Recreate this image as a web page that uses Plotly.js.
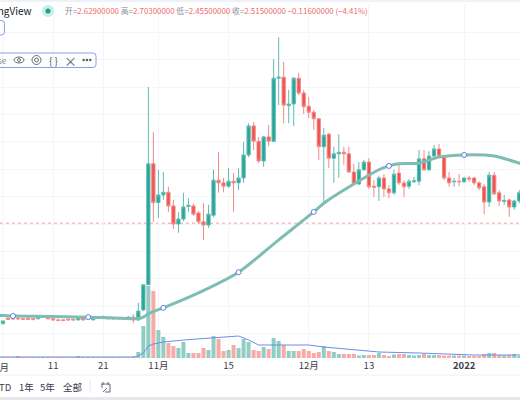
<!DOCTYPE html>
<html><head><meta charset="utf-8">
<script src="https://cdn.plot.ly/plotly-3.0.1.min.js"></script>
<style>html,body{margin:0;padding:0;background:#fff;overflow:hidden}#c{width:520px;height:400px}</style>
</head><body><div id="c"></div>
<script>
const opens=[.68,.78,.78,.78,.77,.78,.77,.77,.80,.82,.77,.75,.75,.76,.76,.75,.80,.77,.75,.78,.81,.77,.79,.77,.78,.77,.80,.75,.93,1.39,3.60,2.89,3.03,3.08,2.83,2.50,2.59,2.82,2.83,2.70,2.54,2.48,2.66,3.30,3.25,3.19,3.28,3.25,3.34,3.76,4.29,4.01,3.65,4.09,4.01,5.16,5.18,4.66,4.69,5.16,4.89,4.65,4.54,4.42,3.91,4.14,3.70,3.78,3.81,3.78,3.45,3.23,3.49,3.63,3.19,3.18,3.34,3.14,3.07,3.43,3.25,3.19,3.27,3.28,3.69,3.49,3.74,3.87,3.74,3.34,3.27,3.28,3.27,3.34,3.34,3.25,3.18,2.90,3.39,3.07,2.91,2.94,2.81,2.92];
const highs=[.74,.80,.79,.80,.79,.80,.78,.81,.83,.84,.78,.77,.76,.78,.77,.81,.82,.81,.78,.82,.83,.80,.80,.79,.79,.82,.86,1.06,1.40,5.00,4.18,3.49,3.45,3.18,2.94,2.72,3.07,2.97,2.87,2.74,2.88,2.85,3.49,3.81,3.34,3.52,3.43,3.52,4.00,4.34,4.36,4.09,4.11,4.31,5.51,5.91,5.46,4.95,5.18,5.26,4.95,4.82,4.58,4.43,4.25,4.16,3.91,4.14,3.91,3.91,3.60,3.63,3.67,3.70,3.30,3.38,3.41,3.21,3.49,3.60,3.30,3.32,3.36,3.85,3.85,3.83,3.94,3.96,3.76,3.45,3.34,3.41,3.36,3.38,3.36,3.28,3.23,3.45,3.45,3.12,3.03,2.96,2.94,3.12];
const lows=[.67,.75,.75,.75,.75,.75,.74,.76,.79,.76,.74,.73,.73,.74,.74,.74,.74,.76,.74,.77,.77,.76,.76,.76,.76,.76,.69,.73,.91,1.39,2.54,2.61,2.94,2.72,2.41,2.34,2.55,2.72,2.65,2.50,2.21,2.43,2.63,3.07,3.08,3.16,2.72,3.12,3.25,3.72,3.85,3.61,3.54,3.92,3.99,4.67,4.34,4.34,4.29,4.85,4.51,4.43,4.22,3.67,2.88,3.52,3.25,3.34,3.58,3.43,3.21,3.21,3.47,3.14,2.99,2.92,2.99,2.97,3.03,3.21,2.99,3.14,3.25,3.21,3.47,3.47,3.70,3.72,3.30,3.18,3.18,3.19,3.25,3.27,3.21,3.12,2.68,2.81,3.03,2.83,2.85,2.63,2.76,2.88];
const closes=[.73,.76,.77,.77,.76,.76,.76,.80,.82,.77,.75,.74,.74,.75,.75,.80,.75,.80,.77,.80,.78,.79,.77,.78,.77,.80,.75,.91,1.39,3.60,2.89,3.03,3.08,2.83,2.50,2.59,2.81,2.84,2.68,2.54,2.48,2.68,3.30,3.25,3.19,3.28,3.25,3.34,3.76,4.29,4.01,3.65,4.09,4.01,5.16,5.18,4.67,4.69,5.16,4.89,4.64,4.54,4.42,3.91,4.12,3.70,3.78,3.81,3.78,3.45,3.23,3.49,3.63,3.18,3.17,3.34,3.14,3.07,3.41,3.25,3.18,3.28,3.29,3.69,3.49,3.74,3.87,3.74,3.34,3.25,3.28,3.27,3.34,3.32,3.25,3.16,2.90,3.39,3.05,2.92,2.93,2.81,2.92,3.07];
const volumes=[.8,.8,.8,2,1,.8,.8,.8,1,1,.8,.8,.8,.8,.8,2,1,1,.8,.8,1,.8,.8,.8,.8,.8,1.5,6,32,72,67,28,21,15,12,10,16,5,5,5,10,8,22,19,7,8,13,10,19,16,8,7,11,9,20,17,13,7,7,7,9,7,5,6,12,7,6,4,4,4,4,2.5,3,3,3,5,3,2,3.5,4,4,3,2.5,3,4,3,3,3,2.5,2.5,2.5,2.5,2.5,2,2,2,4,5,5,3,2.5,3,4,2];
const maDays=[-1,0,2,17,26,27,28,29,30,32,38,47,55,62,64,70,75,77,79,83,87,92,98,103,104];
const maValues=[.83,.83,.82,.80,.77,.77,.80,.86,.90,.97,1.20,1.62,2.21,2.72,2.88,3.23,3.49,3.56,3.60,3.61,3.72,3.76,3.74,3.61,3.58];
const maMarkerDays=[2,17,32,47,62,77,92];
const maMarkerValues=[.82,.80,.97,1.62,2.72,3.56,3.76];
const volMaDays=[-1,26,27,28,29,30,32,36,47,49,51,61,64,75,83,94,104];
const volMaValues=[1,1,2,5,12,14,16,18,22,18,13,13,11,6,5,3,3];
const tickDays=[10,20,31,45,61,73,92];
const tickLabels=['11','21','11月','15','12月','13','<b>2022</b>'];
const firstGridDay=0, firstTickLabel='10月';
const lastPrice=2.515;
const days=opens.map((_,i)=>i);
const GREEN='#26a69a',RED='#ef5350';
const X=p=>p/520, Y=p=>1-p/400;
const FONT='"Noto Sans CJK SC","Open Sans",sans-serif';
function box(x0,y0,x1,y1,r){return `M${X(x0+r)},${Y(y0)} L${X(x1-r)},${Y(y0)} Q${X(x1)},${Y(y0)} ${X(x1)},${Y(y0+r)} L${X(x1)},${Y(y1-r)} Q${X(x1)},${Y(y1)} ${X(x1-r)},${Y(y1)} L${X(x0+r)},${Y(y1)} Q${X(x0)},${Y(y1)} ${X(x0)},${Y(y1-r)} L${X(x0)},${Y(y0+r)} Q${X(x0)},${Y(y0)} ${X(x0+r)},${Y(y0)} Z`;}
const pShape=(type,x0,y0,x1,y1,o)=>Object.assign({type,xref:'paper',yref:'paper',x0:X(x0),x1:X(x1),y0:Y(y0),y1:Y(y1),line:{width:0}},o);
const pathShape=(d,c,w)=>({type:'path',xref:'paper',yref:'paper',path:d,line:{color:c,width:w}});
const ICON='#6a6d78', BLUE='#8aa0ee';
const shapes=[
 {type:'line',xref:'paper',x0:0,x1:1,yref:'y2',y0:lastPrice,y1:lastPrice,line:{color:'#f4a0a0',width:1,dash:'dot'},layer:'below'},
 pShape('rect',0,0,520,2,{fillcolor:'#eef1f6'}),
 pShape('rect',0,397,520,400,{fillcolor:'#e6e8ee'}),
 pShape('line',0,375,520,375,{line:{color:'#eef0f3',width:1}}),
 pShape('circle',42,5,54,17,{fillcolor:'#c8ede6'}),
 pShape('circle',45.5,8.5,50.5,13.5,{fillcolor:'#1f9e8a'}),
 pathShape(box(-10,20.5,4.5,35,3),BLUE,1),
 pathShape(box(-10,53,96,67.5,3),BLUE,1),
 pShape('circle',14,57,24,63,{line:{color:ICON,width:1}}),
 pShape('circle',17.5,58.5,20.5,61.5,{line:{color:ICON,width:1}}),
 pShape('circle',32,55.5,41,64.5,{line:{color:ICON,width:1}}),
 pShape('circle',34.5,58,38.5,62,{line:{color:ICON,width:1}}),
 pShape('circle',82.5,58.8,84.9,61.2,{fillcolor:'#555964'}),
 pShape('circle',85.8,58.8,88.2,61.2,{fillcolor:'#555964'}),
 pShape('circle',89.1,58.8,91.5,61.2,{fillcolor:'#555964'}),
 pShape('line',90,380,90,393,{line:{color:'#e4e6ea',width:1}}),
 pathShape(`M${X(101)},${Y(384)} L${X(110)},${Y(384)} L${X(110)},${Y(392)} L${X(105)},${Y(392)} M${X(102)},${Y(384)} L${X(102)},${Y(388)} M${X(103)},${Y(382)} L${X(103)},${Y(385)} M${X(108)},${Y(382)} L${X(108)},${Y(385)} M${X(103)},${Y(392)} L${X(107)},${Y(388)}`,'#6a6d78',1),
 {type:'line',yref:'paper',xref:'x',x0:firstGridDay,x1:firstGridDay,y0:42/400,y1:396/400,line:{color:'#f4f5f7',width:1},layer:'below'}
];
const note=(x,y,text,size,color,anchor,extra)=>Object.assign({xref:'paper',yref:'paper',x:X(x),y:Y(y),text,showarrow:false,xanchor:anchor||'left',yanchor:'middle',font:{family:FONT,size,color},borderpad:0},extra||{});
const lab=(k)=>`<span style="color:#8a8d96">${k}=</span>`;
const header=`${lab('开')}2.62900000 ${lab('高')}2.70300000 ${lab('低')}2.45500000 ${lab('收')}2.51500000 −0.11600000 (−4.41%)`;
const annotations=[
 note(33,11,'TradingView',10,'#131722','right'),
 note(64,11,header,7.9,'#ef6a67','left'),
 note(8,60.5,'se',8,'#7a7d87','right'),
 note(53,60,'{ }',10,'#555964','center'),
 note(70,60,'×',13,'#555964','center'),
 note(10,366.5,firstTickLabel,9.5,'#3a3d47','right'),
 note(5,387,'TD',9.5,'#3a3d47','center'),
 note(26,387,'1年',9.5,'#3a3d47','center'),
 note(47,387,'5年',9.5,'#3a3d47','center'),
 note(72,387,'全部',9.5,'#3a3d47','center')
];
const traces=[
 {type:'bar',x:days,y:volumes,yaxis:'y',xaxis:'x',marker:{color:days.map(i=>closes[i]>=opens[i]?'#92cdc4':'#f8aaa6'),line:{width:0}},hoverinfo:'skip'},
 {type:'scatter',mode:'lines',x:volMaDays,y:volMaValues,yaxis:'y',xaxis:'x',line:{color:'#6d8ce8',width:1},hoverinfo:'skip'},
 {type:'candlestick',x:days,open:opens,high:highs,low:lows,close:closes,yaxis:'y2',xaxis:'x',whiskerwidth:0,
  increasing:{line:{color:'#5fbbb1',width:1},fillcolor:GREEN},decreasing:{line:{color:'#f28a87',width:1},fillcolor:RED},hoverinfo:'skip'},
 {type:'scatter',mode:'lines',x:maDays,y:maValues,yaxis:'y2',xaxis:'x',line:{color:'#7fbdb4',width:3,shape:'spline',smoothing:.7},hoverinfo:'skip'},
 {type:'scatter',mode:'markers',x:maMarkerDays,y:maMarkerValues,yaxis:'y2',xaxis:'x',marker:{size:5,color:'#fff',line:{color:'#5f7fe0',width:1}},hoverinfo:'skip'}
];
const layout={width:520,height:400,margin:{l:0,r:0,t:0,b:0},paper_bgcolor:'#fff',plot_bgcolor:'#fff',showlegend:false,bargap:.2,boxmode:'group',boxgap:.35,boxgroupgap:0,
 xaxis:{type:'linear',range:[-0.6,103.15],domain:[0,1],tickmode:'array',tickvals:tickDays,ticktext:tickLabels,ticks:'',showline:false,zeroline:false,showgrid:true,gridcolor:'#f4f5f7',gridwidth:1,tickfont:{family:FONT,size:9.5,color:'#3a3d47'},rangeslider:{visible:false},anchor:'y'},
 yaxis:{domain:[(400-358)/400,1-4/400],range:[0,354],visible:false,fixedrange:true},
 yaxis2:{domain:[(400-358)/400,1-4/400],range:[.0545,6.515],overlaying:'y',side:'right',tick0:0,dtick:.5,showgrid:true,gridcolor:'#f4f5f7',gridwidth:1,showticklabels:false,ticks:'',zeroline:false,showline:false},
 shapes,annotations};
Plotly.newPlot('c',traces,layout,{staticPlot:true,displayModeBar:false});
</script></body></html>
